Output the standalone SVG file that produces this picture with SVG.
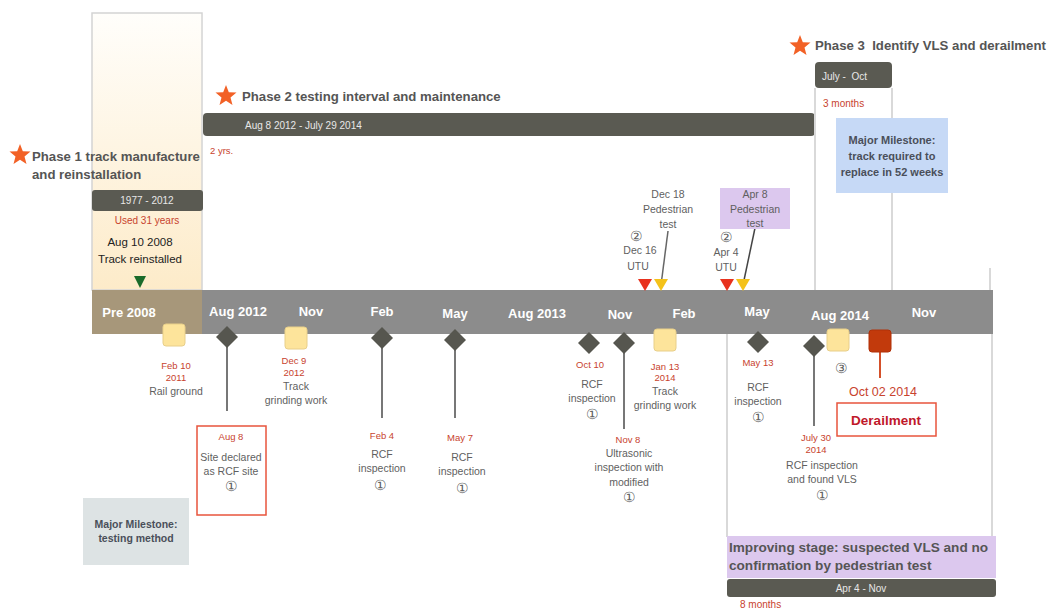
<svg xmlns="http://www.w3.org/2000/svg" width="1049" height="609" viewBox="0 0 1049 609">
<defs>
<linearGradient id="cream" x1="0" y1="0" x2="0" y2="1">
<stop offset="0" stop-color="#fffefb"/>
<stop offset="1" stop-color="#fdebc9"/>
</linearGradient>
<path id="star" d="M0,-11 L2.8,-3.8 L10.5,-3.4 L4.5,1.5 L6.5,8.9 L0,4.7 L-6.5,8.9 L-4.5,1.5 L-10.5,-3.4 L-2.8,-3.8 Z" fill="#f26126"/>
<path id="dia" d="M0,-11 L11,0 L0,11 L-11,0 Z" fill="#56564f"/>
<rect id="ysq" x="-11" y="-11" width="22" height="22" rx="3" fill="#fde49b" stroke="#e8cf8a" stroke-width="1"/>
<path id="tri" d="M-7,0 L7,0 L0,12 Z"/>
</defs>
<style>
text{font-family:"Liberation Sans",Arial,sans-serif;}
.t{font-size:10.5px;fill:#5f5f5f;text-anchor:middle;}
.c{font-size:14px;fill:#5f5f5f;text-anchor:middle;}
.r{font-size:9.5px;fill:#c8432e;text-anchor:middle;}
.ph{font-size:13.2px;font-weight:bold;fill:#555;}
.tl{font-size:13px;font-weight:bold;fill:#fff;text-anchor:middle;}
.bar{fill:#5a5a52;}
.bt{font-size:10px;fill:#e8e8e8;}
.mm{font-size:11px;font-weight:bold;fill:#4a4f5a;text-anchor:middle;}
.vl{stroke:#d9d9d9;stroke-width:2;fill:none;}
.ln{stroke:#777;stroke-width:2;fill:none;}
</style>
<rect width="1049" height="609" fill="#fff"/>

<g id="phase1">
<rect x="92" y="13" width="110" height="277" fill="url(#cream)" stroke="#d4d4d4" stroke-width="1.5"/>
<use href="#star" x="20" y="155"/>
<text class="ph" x="32" y="161">Phase 1 track manufacture</text>
<text class="ph" x="32" y="179">and reinstallation</text>
<rect class="bar" x="92" y="190" width="111" height="21" rx="3"/>
<text class="bt" x="147" y="204" text-anchor="middle">1977 - 2012</text>
<text class="r" x="147" y="224" style="font-size:10px">Used 31 years</text>
<text x="140" y="246" style="font-size:11.5px;fill:#222;text-anchor:middle">Aug 10 2008</text>
<text x="140" y="263" style="font-size:11.5px;fill:#222;text-anchor:middle">Track reinstalled</text>
<path d="M134,276 L146,276 L140,288 Z" fill="#1a6b2a"/>
</g>

<g id="phase2">
<use href="#star" x="226" y="96"/>
<text class="ph" x="242" y="101">Phase 2 testing interval and maintenance</text>
<rect class="bar" x="203" y="113" width="612" height="23" rx="4"/>
<text class="bt" x="245" y="129">Aug 8 2012 - July 29 2014</text>
<text class="r" x="210" y="154" style="text-anchor:start">2 yrs.</text>
</g>

<g id="phase3">
<line class="vl" x1="815" y1="88" x2="815" y2="290"/>
<line class="vl" x1="892" y1="88" x2="892" y2="290"/>
<line class="vl" x1="990" y1="268" x2="990" y2="290"/>
<use href="#star" x="800" y="46"/>
<text class="ph" x="815" y="50">Phase 3 &#160;Identify VLS and derailment</text>
<rect class="bar" x="815" y="62" width="77" height="26" rx="4"/>
<text class="bt" x="822" y="80">July - &#160;Oct</text>
<text class="r" x="823" y="107" style="text-anchor:start;font-size:10px">3 months</text>
</g>

<g id="milestone-replace">
<rect x="836" y="118" width="112" height="75" fill="#c6d9f6"/>
<text class="mm" x="892" y="144">Major Milestone:</text>
<text class="mm" x="892" y="160">track required to</text>
<text class="mm" x="892" y="176">replace in 52 weeks</text>
</g>

<g id="improving-frame">
<line class="vl" x1="727" y1="334" x2="727" y2="537"/>
<line class="vl" x1="992" y1="334" x2="992" y2="537"/>
</g>

<g id="timeline">
<rect x="92" y="290" width="901" height="44" fill="#8c8c8c"/>
<rect x="92" y="290" width="110" height="44" fill="#a7977a"/>
<text class="tl" x="129" y="317">Pre 2008</text>
<text class="tl" x="238" y="316">Aug 2012</text>
<text class="tl" x="311" y="316">Nov</text>
<text class="tl" x="382" y="316">Feb</text>
<text class="tl" x="455" y="318">May</text>
<text class="tl" x="537" y="318">Aug 2013</text>
<text class="tl" x="620" y="319">Nov</text>
<text class="tl" x="684" y="318">Feb</text>
<text class="tl" x="757" y="316">May</text>
<text class="tl" x="840" y="320">Aug 2014</text>
<text class="tl" x="924" y="317">Nov</text>
</g>

<g id="connectors">
<line class="ln" x1="227" y1="337" x2="227" y2="411"/>
<line class="ln" x1="382" y1="338" x2="382" y2="418"/>
<line class="ln" x1="455" y1="340" x2="455" y2="418"/>
<line class="ln" x1="624" y1="343" x2="624" y2="429"/>
<line class="ln" x1="814" y1="346" x2="814" y2="426"/>
<line x1="880" y1="341" x2="880" y2="378" stroke="#d4502a" stroke-width="2"/>
<line x1="661" y1="285" x2="668" y2="231" stroke="#666" stroke-width="1.5"/>
<line x1="743" y1="285" x2="755" y2="228" stroke="#444" stroke-width="1.5"/>
</g>

<g id="n-railground">
<use href="#ysq" x="174" y="335"/>
<text class="r" x="176" y="369">Feb 10</text>
<text class="r" x="176" y="381">2011</text>
<text class="t" x="176" y="395">Rail ground</text>
</g>

<g id="n-aug8">
<use href="#dia" x="227" y="337"/>
<rect x="197" y="426" width="69" height="89" fill="#fff" stroke="#e8543c" stroke-width="1.5"/>
<text class="r" x="231" y="440">Aug 8</text>
<text class="t" x="231" y="461">Site declared</text>
<text class="t" x="231" y="475">as RCF site</text>
<text class="c" x="231" y="491">①</text>
</g>

<g id="n-dec9">
<use href="#ysq" x="296" y="338"/>
<text class="r" x="294" y="364">Dec 9</text>
<text class="r" x="294" y="376">2012</text>
<text class="t" x="296" y="390">Track</text>
<text class="t" x="296" y="404">grinding work</text>
</g>

<g id="n-feb4">
<use href="#dia" x="382" y="338"/>
<text class="r" x="382" y="439">Feb 4</text>
<text class="t" x="382" y="458">RCF</text>
<text class="t" x="382" y="472">inspection</text>
<text class="c" x="380" y="490">①</text>
</g>

<g id="n-may7">
<use href="#dia" x="455" y="340"/>
<text class="r" x="460" y="441">May 7</text>
<text class="t" x="462" y="461">RCF</text>
<text class="t" x="462" y="475">inspection</text>
<text class="c" x="462" y="493">①</text>
</g>

<g id="n-oct10">
<use href="#dia" x="589" y="343"/>
<text class="r" x="590" y="368">Oct 10</text>
<text class="t" x="592" y="388">RCF</text>
<text class="t" x="592" y="402">inspection</text>
<text class="c" x="592" y="419">①</text>
</g>

<g id="n-nov8">
<use href="#dia" x="624" y="343"/>
<text class="r" x="628" y="443">Nov 8</text>
<text class="t" x="629" y="457">Ultrasonic</text>
<text class="t" x="629" y="471">inspection with</text>
<text class="t" x="629" y="486">modified</text>
<text class="c" x="629" y="502">①</text>
</g>

<g id="n-jan13">
<use href="#ysq" x="665" y="340"/>
<text class="r" x="665" y="370">Jan 13</text>
<text class="r" x="665" y="381">2014</text>
<text class="t" x="665" y="395">Track</text>
<text class="t" x="665" y="409">grinding work</text>
</g>

<g id="n-dec16">
<text class="c" x="636" y="241">②</text>
<text class="t" x="640" y="254">Dec 16</text>
<text class="t" x="638" y="270">UTU</text>
<use href="#tri" x="645" y="279" fill="#e8321e"/>
</g>

<g id="n-dec18">
<text class="t" x="668" y="198">Dec 18</text>
<text class="t" x="668" y="213">Pedestrian</text>
<text class="t" x="668" y="228">test</text>
<use href="#tri" x="661" y="279" fill="#f4c21a"/>
</g>

<g id="n-apr4">
<text class="c" x="726" y="242">②</text>
<text class="t" x="726" y="256">Apr 4</text>
<text class="t" x="726" y="271">UTU</text>
<use href="#tri" x="727" y="279" fill="#e8321e"/>
</g>

<g id="n-apr8">
<rect x="720" y="188" width="70" height="41" fill="#dcc8ee"/>
<text class="t" x="755" y="198">Apr 8</text>
<text class="t" x="755" y="213">Pedestrian</text>
<text class="t" x="755" y="227">test</text>
<use href="#tri" x="743" y="279" fill="#f4c21a"/>
</g>

<g id="n-may13">
<use href="#dia" x="758" y="342"/>
<text class="r" x="758" y="366">May 13</text>
<text class="t" x="758" y="391">RCF</text>
<text class="t" x="758" y="405">inspection</text>
<text class="c" x="758" y="422">①</text>
</g>

<g id="n-july30">
<use href="#dia" x="814" y="346"/>
<text class="r" x="816" y="441">July 30</text>
<text class="r" x="816" y="453">2014</text>
<text class="t" x="822" y="469">RCF inspection</text>
<text class="t" x="822" y="483">and found VLS</text>
<text class="c" x="822" y="500">①</text>
</g>

<g id="n-three">
<use href="#ysq" x="838" y="340"/>
<text class="c" x="841" y="373">③</text>
</g>

<g id="n-derail">
<rect x="869" y="330" width="22" height="22" rx="3" fill="#c23a0c" stroke="#b03008" stroke-width="1"/>
<text x="883" y="396" style="font-size:12.5px;fill:#c8432e;text-anchor:middle">Oct 02 2014</text>
<rect x="837" y="403" width="99" height="33" fill="#fff" stroke="#e8543c" stroke-width="1.5"/>
<text x="886" y="425" style="font-size:13.5px;font-weight:bold;fill:#c0182a;text-anchor:middle">Derailment</text>
</g>

<g id="milestone-testing">
<rect x="83" y="498" width="106" height="67" fill="#dde3e4"/>
<text class="mm" x="136" y="528" style="font-size:10.5px">Major Milestone:</text>
<text class="mm" x="136" y="542" style="font-size:10.5px">testing method</text>
</g>

<g id="improving">
<rect x="727" y="536" width="269" height="42" fill="#dcc8ee"/>
<text class="ph" x="729" y="552" style="font-size:13.6px">Improving stage: suspected VLS and no</text>
<text class="ph" x="729" y="570" style="font-size:13.6px">confirmation by pedestrian test</text>
<rect class="bar" x="727" y="579" width="269" height="18" rx="3"/>
<text class="bt" x="861" y="592" text-anchor="middle">Apr 4 - Nov</text>
<text class="r" x="740" y="608" style="text-anchor:start;font-size:10px">8 months</text>
</g>
</svg>
